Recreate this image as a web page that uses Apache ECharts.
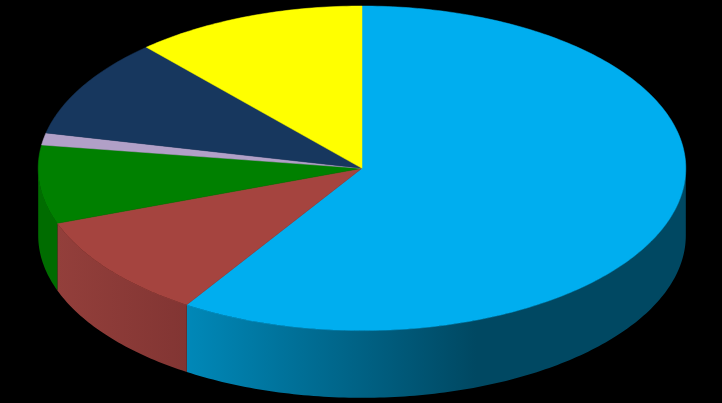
<!DOCTYPE html>
<html><head><meta charset="utf-8">
<style>html,body{margin:0;padding:0;background:#000}#c{width:722px;height:403px}</style>
<script src="https://cdn.jsdelivr.net/npm/echarts@6/dist/echarts.min.js"></script>
</head><body><div id="c"></div>
<script>
var categories = ['Blue','Red','Green','Lilac','Navy','Yellow'];
var values = [59.1,10.4,7.8,1.2,9.9,11.6];
var topColors = ['#00AEEF','#A5443F','#008000','#B1A0C7','#17375E','#FFFF00'];
var sideStops = [
  [[0,'#0088B8'],[0.58,'#004862'],[1,'#004862']],
  [[0,'#933F3B'],[1,'#823533']],
  [[0,'#006C00'],[1,'#006C00']],
  [[0,'#8A7EA3'],[1,'#8A7EA3']],
  [[0,'#122D4E'],[1,'#122D4E']],
  [[0,'#BDBD00'],[1,'#BDBD00']]
];
var chart = echarts.init(document.getElementById('c'));
var cx=362, cy=168.3, rx=323.8, ry=162.3, depth=67.2;
var total = values.reduce(function(a,b){return a+b;},0);
var starts=[], acc=0;
values.forEach(function(v){starts.push(acc);acc+=v;});
function pt(frac,dy){var t=frac*2*Math.PI;return [cx+rx*Math.sin(t),cy-ry*Math.cos(t)+(dy||0)];}
function arc(a,b,dy){var n=Math.max(2,Math.ceil((b-a)*400)),o=[];for(var i=0;i<=n;i++)o.push(pt(a+(b-a)*i/n,dy));return o;}
function renderSide(params,api){
  var i=params.dataIndex,a=api.value(2)/total,b=a+api.value(1)/total;
  var lo=Math.max(a,0.25),hi=Math.min(b,0.75);
  if(lo>=hi)return {type:'group',children:[]};
  var up=arc(lo,hi,0),down=arc(lo,hi,depth).reverse();
  var stops=sideStops[i].map(function(s){return {offset:s[0],color:s[1]};});
  return {type:'polygon',z2:1,shape:{points:up.concat(down)},style:{
    fill:new echarts.graphic.LinearGradient(0,0,1,0,stops),stroke:null}};
}
function renderTop(params,api){
  var i=params.dataIndex,a=api.value(2)/total,b=a+api.value(1)/total;
  return {type:'polygon',z2:2,shape:{points:[[cx,cy]].concat(arc(a,b,0))},style:{fill:topColors[i],stroke:topColors[i],lineWidth:0.5}};
}
var rows=categories.map(function(c,i){return [c,values[i],starts[i]];});
chart.setOption({
  animation:false,backgroundColor:'#000',
  dataset:{source:rows},
  series:[
    {type:'custom',coordinateSystem:'none',renderItem:renderSide,z:1,silent:true},
    {type:'custom',coordinateSystem:'none',renderItem:renderTop,z:2,silent:true}
  ]
});
</script></body></html>
